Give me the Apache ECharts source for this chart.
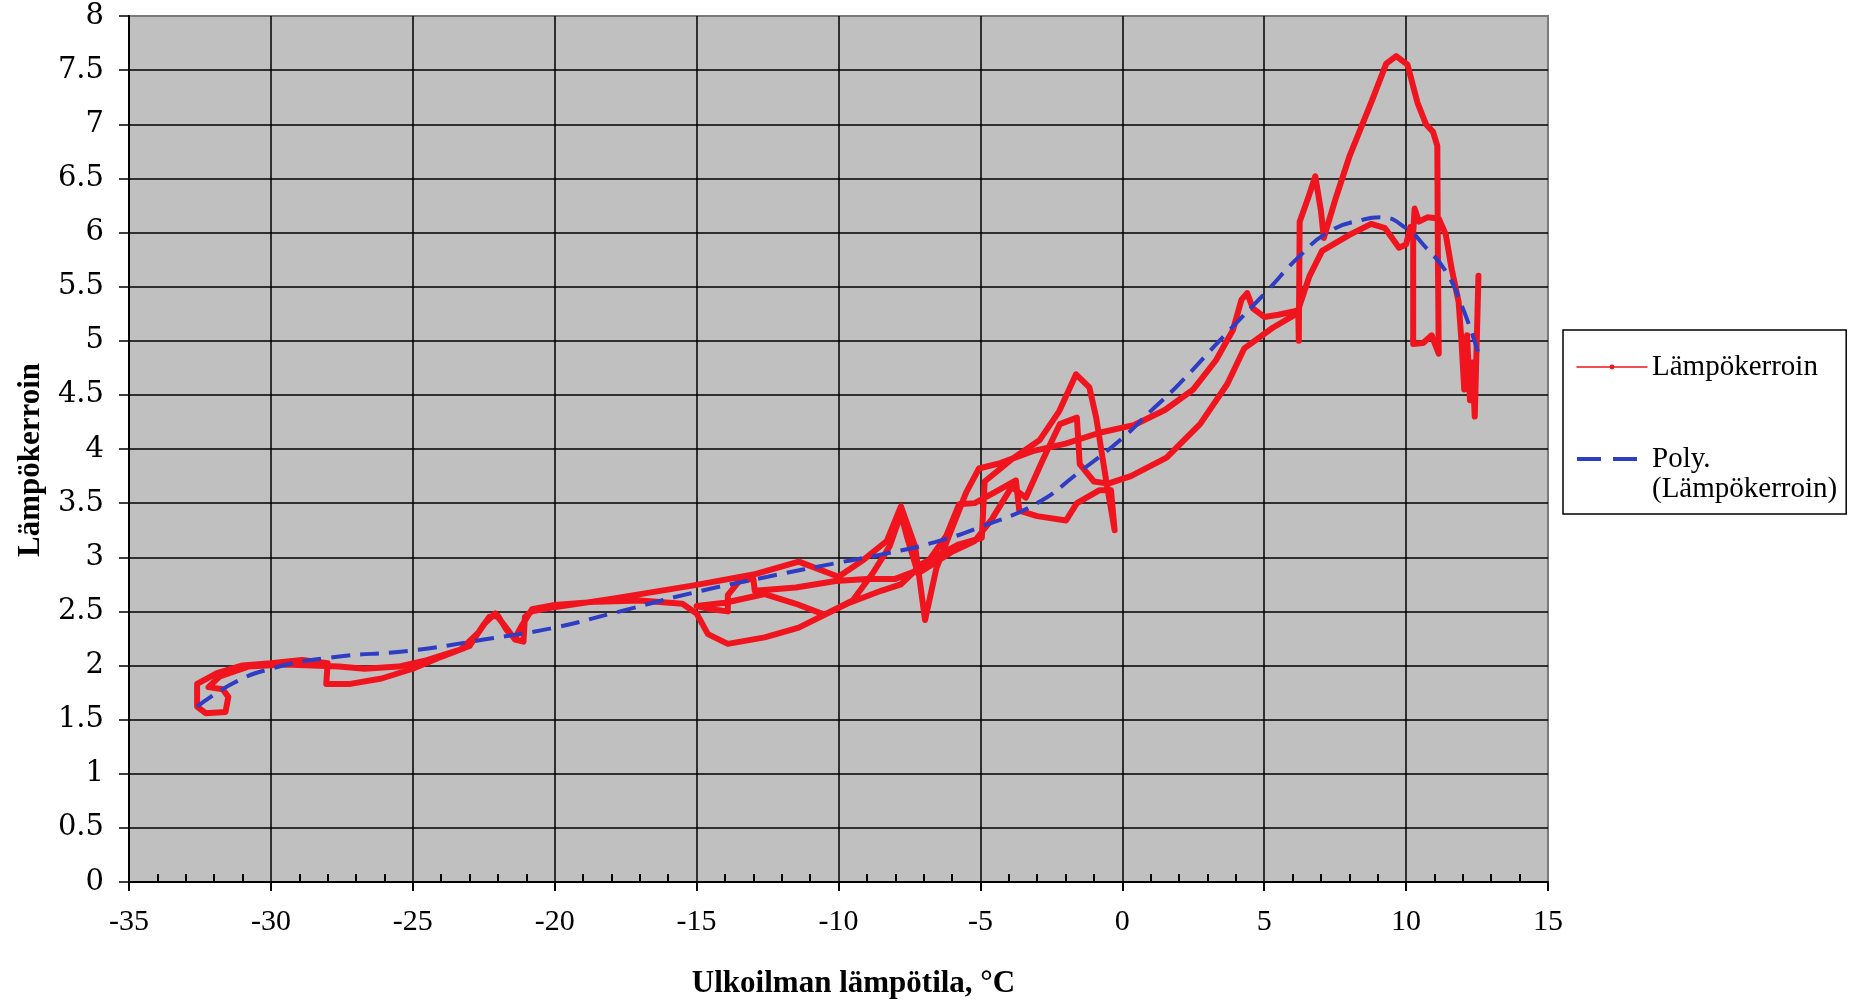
<!DOCTYPE html>
<html>
<head>
<meta charset="utf-8">
<script src="https://cdn.jsdelivr.net/npm/echarts@6/dist/echarts.min.js"></script>
<style>
html,body{margin:0;padding:0;background:#fff;}
#chart{width:1853px;height:1000px;}
</style>
</head>
<body>
<div id="chart"></div>
<script>
// X ticks / Y ticks
const xTicks = [-35, -30, -25, -20, -15, -10, -5, 0, 5, 10, 15];
const yTicks = [0, 0.5, 1, 1.5, 2, 2.5, 3, 3.5, 4, 4.5, 5, 5.5, 6, 6.5, 7, 7.5, 8];

// Measured heat-pump COP (Lämpökerroin) vs outdoor temperature, traced in time order: [temp, cop]
const passWarmToCold = [
  [12.55,5.6],[12.5,5.1],[12.42,4.3],[12.33,4.8],[12.25,4.45],[12.15,5.05],[12.05,4.55],[11.95,5.0],
  [11.85,5.36],[11.6,5.67],[11.4,5.98],[11.15,6.13],[10.75,6.14],[10.45,6.1],[10.3,6.22],[10.25,6.0],
  [10.25,4.97],[10.6,4.98],[10.9,5.05],[11.15,4.88],[11.12,5.8],[11.1,6.8],[10.95,6.93],[10.7,7.0],
  [10.4,7.2],[10.05,7.55],[9.65,7.63],[9.3,7.56],[8.8,7.22],[8.0,6.7],[7.5,6.3],[7.1,5.95],[7.0,6.2],
  [6.8,6.52],[6.55,6.32],[6.25,6.1],[6.22,5.0],[6.2,5.28],[5.5,5.24],[5.0,5.22],[4.6,5.3],[4.4,5.44],
  [4.2,5.38],[3.9,5.1],[3.3,4.82],[2.5,4.55],[1.5,4.36],[0.4,4.22],[-0.8,4.15],[-2,4.05],[-3.16,3.98],
  [-4.3,3.87],[-5.05,3.82],[-5.5,3.6],[-6.0,3.27],[-6.55,2.9],[-6.95,2.42],[-7.3,3.1],[-7.8,3.47],
  [-8.3,3.15],[-9.1,2.98],[-10.0,2.82],[-11.4,2.96],[-13,2.84],[-15.1,2.74],[-17.9,2.62],[-20.2,2.53],
  [-20.8,2.5],[-21.05,2.45],[-21.1,2.22],[-21.4,2.24],[-21.8,2.38],[-22.1,2.48],[-22.5,2.38],[-23,2.18],
  [-24,2.08],[-25,1.97],[-26.1,1.88],[-27.2,1.83],[-28.05,1.83],[-28.0,2.02],[-28.9,2.05],[-30,2.02],
  [-31,2.0],[-31.9,1.93],[-32.6,1.83],[-32.6,1.62],[-32.3,1.56],[-31.6,1.57],[-31.5,1.71],[-31.7,1.78],
  [-32.2,1.8]
];
const passColdToWarm = [
  [-31.8,1.9],[-30.8,1.99],[-29.5,2.01],[-27.6,1.99],[-26.7,1.97],[-25.5,1.99],[-24.5,2.05],[-23.3,2.15],
  [-22.7,2.3],[-22.3,2.45],[-22.0,2.46],[-21.7,2.33],[-21.4,2.25],[-21.2,2.35],[-20.8,2.52],[-20,2.56],
  [-18.5,2.59],[-17,2.6],[-15.5,2.57],[-15.0,2.48],[-14.6,2.29],[-13.9,2.2],[-12.6,2.26],[-11.4,2.35],
  [-10.4,2.48],[-9.7,2.57],[-8.5,2.69],[-7.8,2.75],[-7.05,2.94],[-5.75,3.12],[-4.95,3.18],[-4.85,3.7],
  [-3.87,3.91],[-2.92,4.08],[-2.22,4.35],[-1.63,4.69],[-1.16,4.57],[-0.92,4.29],[-0.57,3.71],[-0.27,3.25],
  [-0.4,3.62]
];
const passSpring = [
  [-0.8,3.62],[-1.6,3.5],[-1.98,3.34],[-3.0,3.38],[-3.63,3.43],[-3.75,3.71],[-4.5,3.6],[-5.2,3.5],
  [-5.75,3.49],[-6.2,3.2],[-7.0,2.9],[-8.0,2.8],[-9.0,2.8],[-10.1,2.78],[-11.5,2.72],[-12.95,2.69],
  [-13.0,2.8],[-13.5,2.78],[-13.9,2.65],[-13.9,2.5],[-14.5,2.52],[-15,2.55],[-14.0,2.58],[-12.6,2.66],
  [-11.5,2.57],[-10.5,2.47],[-9.5,2.6],[-8.8,2.85],[-8.2,3.1],[-7.8,3.4],[-7.6,3.2],[-7.2,2.85],
  [-6.6,2.95],[-6.0,3.05],[-5.2,3.15],[-4.6,3.35],[-3.9,3.65],[-3.4,3.55],[-2.8,3.9],[-2.2,4.23],
  [-1.6,4.29],[-1.5,3.86],[-1.0,3.7],[-0.5,3.68],[0.3,3.75],[1.56,3.92],[2.74,4.23],[3.7,4.6],
  [4.3,4.93],[5.3,5.12],[6.15,5.25],[6.6,5.6],[7.04,5.83],[8.02,5.98],[8.77,6.08],[9.26,6.04],
  [9.75,5.86],[10.0,5.89],[10.15,6.05]
];

// Polynomial trend line (Poly.)
const polyTemp = [-32.6,-31.3,-30,-28,-25,-22.5,-20,-18,-15,-12.5,-10,-8.4,-6.6,-5,-3,-1.6,0,1,2,3.6,5.1,6.2,7.3,8.5,9.1,10,10.7,11.4,12,12.6];
const polyCop  = [1.62,1.84,1.97,2.07,2.14,2.24,2.35,2.48,2.68,2.82,2.95,3.03,3.14,3.28,3.5,3.77,4.1,4.35,4.6,5.05,5.46,5.77,6.01,6.12,6.14,6.04,5.86,5.64,5.3,4.84];

const redData = passWarmToCold.concat(passColdToWarm, passSpring);
const polyData = polyTemp.map((t, i) => [t, polyCop[i]]);

const chart = echarts.init(document.getElementById('chart'), null, {renderer: 'canvas'});
const serif = 'Liberation Serif';
const RED = '#f0141e';
const BLUE = '#2f3cc4';
chart.setOption({
  animation: false,
  backgroundColor: '#ffffff',
  grid: {
    left: 129, right: 305, top: 16, bottom: 118,
    outerBoundsMode: 'none',
    containLabel: false,
    show: true, backgroundColor: '#c0c0c0', borderColor: '#7a7a7a', borderWidth: 2
  },
  legend: {
    orient: 'vertical',
    left: 1563, top: 330,
    backgroundColor: '#ffffff',
    borderColor: '#000', borderWidth: 1.5, borderRadius: 0,
    padding: [22, 9, 10, 12],
    itemGap: 32, itemWidth: 70, itemHeight: 6,
    textStyle: {fontFamily: serif, fontSize: 29, color: '#000', lineHeight: 30},
    formatter: n => n === 'Lämpökerroin' ? n : '\n' + n.replace(' (', '\n('),
    data: [
      {name: 'Lämpökerroin', lineStyle: {width: 1.5}},
      {name: 'Poly. (Lämpökerroin)', itemStyle: {opacity: 0}, lineStyle: {width: 4, type: [24, 12]}}
    ]
  },
  xAxis: {
    type: 'value', min: xTicks[0], max: xTicks[xTicks.length - 1], interval: 5,
    name: 'Ulkoilman lämpötila, °C', nameLocation: 'middle', nameGap: 86,
    nameTextStyle: {fontFamily: serif, fontWeight: 'bold', fontSize: 31, color: '#000', padding: [0, 0, 0, 30]},
    axisLine: {onZero: false, lineStyle: {color: '#000', width: 2}},
    axisTick: {inside: false, length: 9, lineStyle: {color: '#000', width: 2}},
    minorTick: {show: true, splitNumber: 5, length: -8, lineStyle: {color: '#000', width: 2}},
    axisLabel: {fontFamily: serif, fontSize: 30, color: '#000', margin: 25},
    splitLine: {show: true, showMinLine: false, showMaxLine: false, lineStyle: {color: '#000', width: 1.5}}
  },
  yAxis: {
    type: 'value', min: yTicks[0], max: yTicks[yTicks.length - 1], interval: 0.5,
    name: 'Lämpökerroin', nameLocation: 'middle', nameGap: 77,
    nameTextStyle: {fontFamily: serif, fontWeight: 'bold', fontSize: 31, color: '#000', padding: [0, 22, 0, 0]},
    axisLine: {show: true, onZero: false, lineStyle: {color: '#000', width: 2}},
    axisTick: {show: true, length: 10, lineStyle: {color: '#000', width: 1.5}},
    axisLabel: {fontFamily: 'DejaVu Serif', fontSize: 29, color: '#000', margin: 25},
    splitLine: {show: true, showMinLine: false, showMaxLine: false, lineStyle: {color: '#000', width: 1.5}}
  },
  series: [{
    name: 'Lämpökerroin',
    type: 'line',
    data: redData,
    symbol: 'circle', symbolSize: 4, showSymbol: false,
    color: RED,
    lineStyle: {color: RED, width: 6, join: 'round', cap: 'round'},
    z: 3
  }, {
    name: 'Poly. (Lämpökerroin)',
    type: 'line',
    data: polyData,
    smooth: true,
    symbol: 'none', showSymbol: false,
    color: BLUE,
    lineStyle: {color: BLUE, width: 4, type: [19, 10]},
    z: 4
  }]
});
</script>
</body>
</html>
